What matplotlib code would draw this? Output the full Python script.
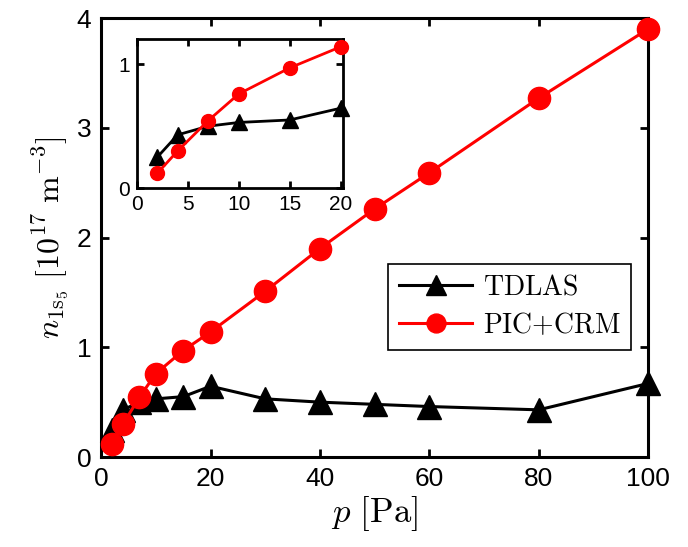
import matplotlib
matplotlib.use("Agg")
import matplotlib.pyplot as plt

plt.rcParams['font.family'] = ['Liberation Sans', 'DejaVu Sans']
plt.rcParams['mathtext.fontset'] = 'cm'

p = [2, 4, 7, 10, 15, 20, 30, 40, 50, 60, 80, 100]
tdlas = [0.25, 0.43, 0.50, 0.53, 0.55, 0.645, 0.53, 0.50, 0.48, 0.46, 0.43, 0.67]
piccrm = [0.12, 0.30, 0.545, 0.76, 0.97, 1.14, 1.51, 1.90, 2.26, 2.59, 3.27, 3.90]

main_xticks = [0, 20, 40, 60, 80, 100]
main_yticks = [0, 1, 2, 3, 4]
inset_xticks = [0, 5, 10, 15, 20]
inset_yticks = [0, 1]

fig = plt.figure(figsize=(6.88, 5.47), dpi=100)
ax = fig.add_axes([0.147, 0.1645, 0.795, 0.8025])

ax.plot(p, tdlas, color='black', marker='^', ms=17, lw=2.2, label='TDLAS', zorder=3, clip_on=False)
ax.plot(p, piccrm, color='red', marker='o', ms=16, lw=2.2, label='PIC+CRM', zorder=4, clip_on=False)

ax.set_xlim(0, 100)
ax.set_ylim(0, 4)
ax.set_xticks(main_xticks)
ax.set_yticks(main_yticks)
ax.tick_params(direction='in', top=True, right=True, length=6, width=2, labelsize=19, pad=7)
for s in ax.spines.values():
    s.set_linewidth(2.2)
ax.set_xlabel(r'$p\ \mathrm{[Pa]}$', fontsize=25, labelpad=2)
ax.set_ylabel(r'$n_{1\mathrm{s}_5}\ [10^{17}\ \mathrm{m}^{-3}]$', fontsize=23, labelpad=4)

leg = ax.legend(loc='upper left', bbox_to_anchor=(0.525, 0.44), fontsize=20,
                fancybox=False, frameon=True, edgecolor='black', framealpha=1,
                handlelength=2.6, markerscale=0.85, borderpad=0.4, labelspacing=0.4,
                handletextpad=0.4, borderaxespad=0)
leg.get_frame().set_linewidth(1.2)
for t in leg.get_texts():
    t.set_text(r'$\mathrm{' + t.get_text().replace('+', '{+}') + '}$')

ins = fig.add_axes([0.199, 0.656, 0.299, 0.272])
ins.plot(p[:6], tdlas[:6], color='black', marker='^', ms=12, lw=2, zorder=3, clip_on=False)
ins.plot(p[:6], piccrm[:6], color='red', marker='o', ms=10, lw=2, zorder=4, clip_on=False)
ins.set_xlim(0, 20.2)
ins.set_ylim(0, 1.2)
ins.set_xticks(inset_xticks)
ins.set_yticks(inset_yticks)
ins.tick_params(direction='in', top=True, right=True, length=5, width=2, labelsize=15, pad=5)
for s in ins.spines.values():
    s.set_linewidth(2)

fig.savefig('out.png', dpi=100)
